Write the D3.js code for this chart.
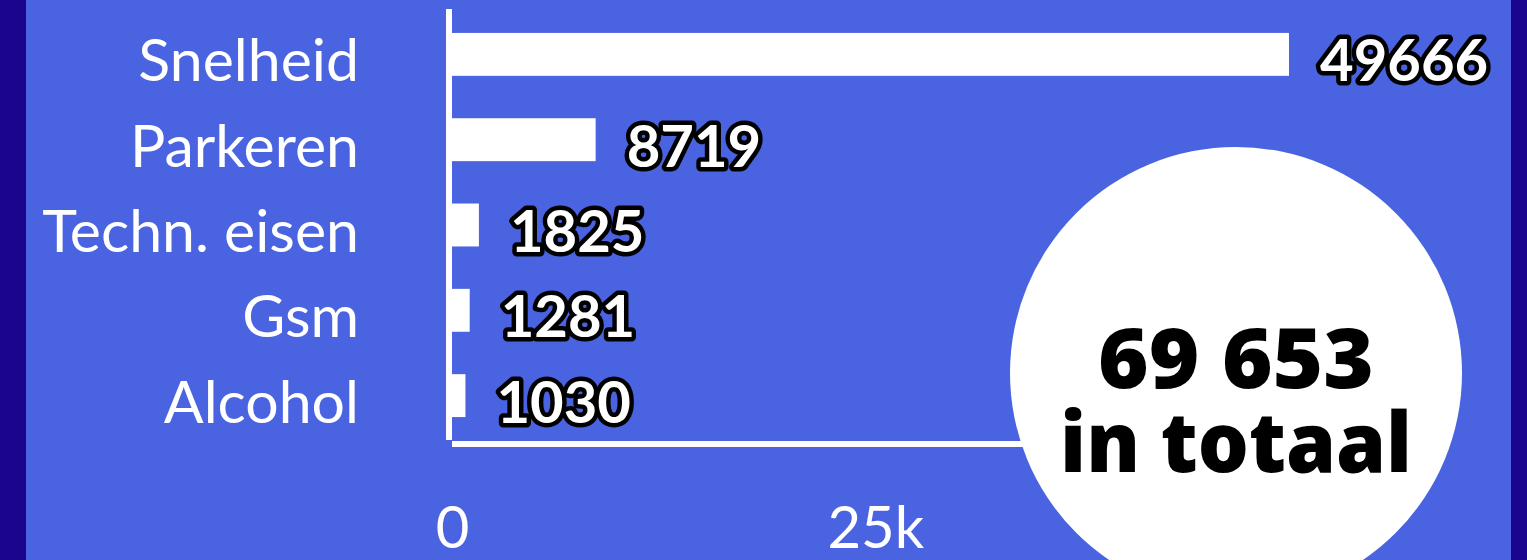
<!DOCTYPE html>
<html>
<head>
<meta charset="utf-8">
<script src="https://cdn.jsdelivr.net/npm/d3@7"></script>
<style>
  html, body { margin: 0; padding: 0; background: #1b058f; }
  svg { display: block; }
</style>
</head>
<body>
<div id="chart"></div>
<script>
const categories = ['Snelheid', 'Parkeren', 'Techn. eisen', 'Gsm', 'Alcohol']
const values = [49666, 8719, 1825, 1281, 1030]
const tickValues = [0, 25000, 50000]
const totalLines = ['69 653', 'in totaal']

const width = 1527
const height = 560

const svg = d3.select('#chart').append('svg')
  .attr('width', width)
  .attr('height', height)

// achtergrond met donkere rand
svg.append('rect').attr('width', width).attr('height', height).attr('fill', '#1b058f')
svg.append('rect').attr('x', 26).attr('y', 0).attr('width', 1511 - 26).attr('height', height)
  .attr('fill', '#4a63e0')

const x = d3.scaleLinear()
  .domain([0, values[0]])
  .range([448, 1289])

const y = d3.scaleBand()
  .domain(categories)
  .range([11.6, 438.4])
  .paddingInner(0.497)
  .paddingOuter(0.25)

const rows = categories.map((c, i) => ({ name: c, value: values[i] }))

// balken
svg.append('g').selectAll('rect')
  .data(rows)
  .join('rect')
  .attr('x', x(0))
  .attr('y', d => y(d.name))
  .attr('width', d => x(d.value) - x(0))
  .attr('height', y.bandwidth())
  .attr('fill', '#fff')

// assen (lijnen)
svg.append('rect').attr('x', 446).attr('y', 9).attr('width', 6).attr('height', 431).attr('fill', '#fff')
svg.append('rect').attr('x', 452).attr('y', 441).attr('width', x.range()[1] - 452).attr('height', 6)
  .attr('fill', '#fff')

// categorie labels
svg.append('g').selectAll('text')
  .data(rows)
  .join('text')
  .attr('x', 359)
  .attr('y', d => y(d.name) + y.bandwidth() / 2 + 27)
  .attr('text-anchor', 'end')
  .attr('font-family', 'Lato, sans-serif')
  .attr('font-size', 59)
  .attr('fill', '#fff')
  .text(d => d.name)

// waarden met zwarte rand
svg.append('g').selectAll('text')
  .data(rows)
  .join('text')
  .attr('x', d => x(d.value) + 31)
  .attr('y', d => y(d.name) + y.bandwidth() / 2 + 27)
  .attr('font-family', 'Lato, sans-serif')
  .attr('font-weight', 700)
  .attr('font-size', 58)
  .attr('fill', '#fff')
  .attr('stroke', '#000')
  .attr('stroke-width', 9)
  .attr('stroke-linejoin', 'round')
  .attr('paint-order', 'stroke')
  .text(d => d.value)

// x-as tick labels
const xAxis = d3.axisBottom(x)
  .tickValues(tickValues)
  .tickSize(0)
  .tickFormat(d => d === 0 ? '0' : d3.format('~s')(d))

const axisG = svg.append('g')
  .attr('transform', 'translate(4, 0)')
  .call(xAxis)
axisG.select('.domain').remove()
axisG.selectAll('text')
  .attr('y', 548)
  .attr('dy', 0)
  .attr('font-family', 'Lato, sans-serif')
  .attr('font-size', 58)
  .attr('fill', '#fff')

// totaal cirkel
const circleG = svg.append('g').attr('transform', 'translate(1236, 373)')
circleG.append('circle').attr('r', 226).attr('fill', '#fff')
circleG.append('text')
  .attr('text-anchor', 'middle')
  .attr('font-family', '"Open Sans", sans-serif')
  .attr('font-weight', 800)
  .attr('font-size', 84)
  .attr('fill', '#000')
  .selectAll('tspan')
  .data(totalLines)
  .join('tspan')
  .attr('x', 0)
  .attr('y', (d, i) => i === 0 ? 15 : 99)
  .attr('textLength', (d, i) => i === 0 ? 276 : 352)
  .attr('lengthAdjust', 'spacingAndGlyphs')
  .text(d => d)
</script>
</body>
</html>
